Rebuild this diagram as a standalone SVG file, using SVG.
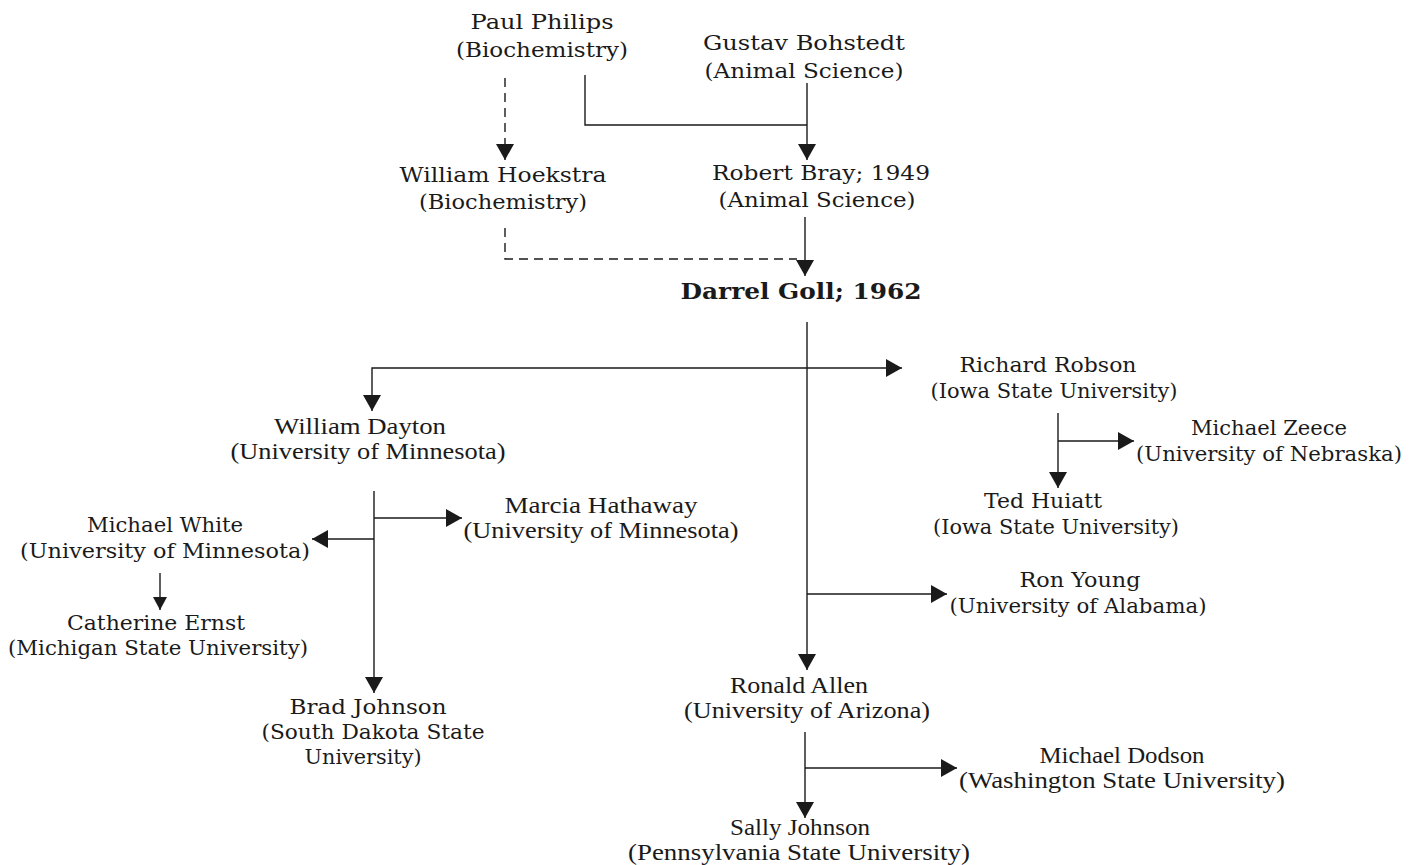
<svg xmlns="http://www.w3.org/2000/svg" width="1415" height="865" viewBox="0 0 1415 865">
<defs>
<marker id="ah" markerUnits="userSpaceOnUse" markerWidth="18" markerHeight="18" refX="16" refY="9" orient="auto">
<path d="M0,0 L16,9 L0,18 z" fill="#1a1a1a"/>
</marker>
<marker id="ahs" markerUnits="userSpaceOnUse" markerWidth="14" markerHeight="14" refX="13" refY="7" orient="auto">
<path d="M0,0 L13,7 L0,14 z" fill="#1a1a1a"/>
</marker>
<style>
text{fill:#1a1a1a;text-anchor:middle}
.b{font-family:"DejaVu Serif","Liberation Serif",serif;font-size:20px}
.t{font-family:"Liberation Serif","Times New Roman",serif;font-size:24px}
.g{font-family:"DejaVu Serif","Liberation Serif",serif;font-size:23px;font-weight:bold}
.c path{fill:none;stroke:#1a1a1a;stroke-width:1.4}
.c .d{stroke-dasharray:9 6}
</style>
</defs>
<rect width="1415" height="865" fill="#ffffff"/>
<g class="c" id="connectors">
<path class="d" d="M505,78 V160" marker-end="url(#ah)"/>
<path d="M585,75 V125 H807"/>
<path d="M807,83 V160" marker-end="url(#ah)"/>
<path class="d" d="M505,228 V259 H797"/>
<path d="M805,217 V276" marker-end="url(#ah)"/>
<path d="M807,322 V670" marker-end="url(#ah)"/>
<path d="M807,368 H902" marker-end="url(#ah)"/>
<path d="M807,368 H372 V411" marker-end="url(#ah)"/>
<path d="M1058,413 V488" marker-end="url(#ah)"/>
<path d="M1058,441 H1134" marker-end="url(#ah)"/>
<path d="M374,491 V693" marker-end="url(#ah)"/>
<path d="M374,518 H462" marker-end="url(#ah)"/>
<path d="M374,539 H312" marker-end="url(#ah)"/>
<path d="M160,573 V610" marker-end="url(#ahs)"/>
<path d="M807,594 H947" marker-end="url(#ah)"/>
<path d="M805,732 V818" marker-end="url(#ah)"/>
<path d="M805,768 H957" marker-end="url(#ah)"/>
</g>
<g id="paul-philips" class="b"><text x="542" y="29" textLength="143" lengthAdjust="spacingAndGlyphs">Paul Philips</text><text x="542" y="57" textLength="172" lengthAdjust="spacingAndGlyphs">(Biochemistry)</text></g>
<g id="gustav-bohstedt" class="b"><text x="804" y="50" textLength="202" lengthAdjust="spacingAndGlyphs">Gustav Bohstedt</text><text x="804" y="78" textLength="199" lengthAdjust="spacingAndGlyphs">(Animal Science)</text></g>
<g id="william-hoekstra" class="b"><text x="503" y="182" textLength="207" lengthAdjust="spacingAndGlyphs">William Hoekstra</text><text x="503" y="209" textLength="168" lengthAdjust="spacingAndGlyphs">(Biochemistry)</text></g>
<g id="robert-bray" class="b"><text x="821" y="180" textLength="218" lengthAdjust="spacingAndGlyphs">Robert Bray; 1949</text><text x="817" y="207" textLength="197" lengthAdjust="spacingAndGlyphs">(Animal Science)</text></g>
<g id="darrel-goll" class="g"><text x="801" y="299" textLength="241" lengthAdjust="spacingAndGlyphs">Darrel Goll; 1962</text></g>
<g id="richard-robson" class="b"><text x="1048" y="372" textLength="177" lengthAdjust="spacingAndGlyphs">Richard Robson</text><text x="1054" y="398" textLength="247" lengthAdjust="spacingAndGlyphs">(Iowa State University)</text></g>
<g id="william-dayton" class="t"><text x="360" y="434" textLength="172" lengthAdjust="spacingAndGlyphs">William Dayton</text><text x="368" y="459" textLength="275" lengthAdjust="spacingAndGlyphs">(University of Minnesota)</text></g>
<g id="michael-zeece" class="b"><text x="1269" y="435" textLength="156" lengthAdjust="spacingAndGlyphs">Michael Zeece</text><text x="1269" y="461" textLength="266" lengthAdjust="spacingAndGlyphs">(University of Nebraska)</text></g>
<g id="ted-huiatt" class="b"><text x="1043" y="508" textLength="118" lengthAdjust="spacingAndGlyphs">Ted Huiatt</text><text x="1056" y="534" textLength="246" lengthAdjust="spacingAndGlyphs">(Iowa State University)</text></g>
<g id="marcia-hathaway" class="t"><text x="601" y="513" textLength="193" lengthAdjust="spacingAndGlyphs">Marcia Hathaway</text><text x="601" y="538" textLength="275" lengthAdjust="spacingAndGlyphs">(University of Minnesota)</text></g>
<g id="michael-white" class="b"><text x="165" y="532" textLength="156" lengthAdjust="spacingAndGlyphs">Michael White</text><text x="165" y="558" textLength="290" lengthAdjust="spacingAndGlyphs">(University of Minnesota)</text></g>
<g id="catherine-ernst" class="b"><text x="156" y="630" textLength="178" lengthAdjust="spacingAndGlyphs">Catherine Ernst</text><text x="158" y="655" textLength="300" lengthAdjust="spacingAndGlyphs">(Michigan State University)</text></g>
<g id="ron-young" class="b"><text x="1080" y="587" textLength="121" lengthAdjust="spacingAndGlyphs">Ron Young</text><text x="1078" y="613" textLength="257" lengthAdjust="spacingAndGlyphs">(University of Alabama)</text></g>
<g id="ronald-allen" class="t"><text x="799" y="693" textLength="138" lengthAdjust="spacingAndGlyphs">Ronald Allen</text><text x="807" y="718" textLength="246" lengthAdjust="spacingAndGlyphs">(University of Arizona)</text></g>
<g id="brad-johnson" class="b"><text x="368" y="714" textLength="157" lengthAdjust="spacingAndGlyphs">Brad Johnson</text><text x="373" y="739" textLength="223" lengthAdjust="spacingAndGlyphs">(South Dakota State</text><text x="363" y="764" textLength="117" lengthAdjust="spacingAndGlyphs">University)</text></g>
<g id="michael-dodson" class="t"><text x="1122" y="763" textLength="165" lengthAdjust="spacingAndGlyphs">Michael Dodson</text><text x="1122" y="788" textLength="326" lengthAdjust="spacingAndGlyphs">(Washington State University)</text></g>
<g id="sally-johnson" class="t"><text x="800" y="835" textLength="140" lengthAdjust="spacingAndGlyphs">Sally Johnson</text><text x="799" y="860" textLength="342" lengthAdjust="spacingAndGlyphs">(Pennsylvania State University)</text></g>
</svg>
